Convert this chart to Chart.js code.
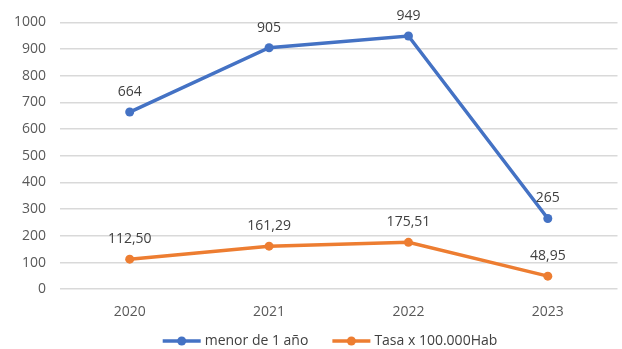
<!DOCTYPE html>
<html>
<head>
<meta charset="utf-8">
<script src="https://cdn.jsdelivr.net/npm/chart.js@4"></script>
<style>
  html, body { margin: 0; padding: 0; background: #fff; }
  #wrap { width: 622px; height: 349px; }
</style>
</head>
<body>
<div id="wrap"><canvas id="grafico"></canvas></div>
<script>
const anios = ['2020', '2021', '2022', '2023'];
const menorUnAnio = [664, 905, 949, 265];
const tasa = [112.50, 161.29, 175.51, 48.95];
const nombres = ['menor de 1 año', 'Tasa x 100.000Hab'];
const colores = ['#4472C4', '#ED7D31'];
const yTicks = [0, 100, 200, 300, 400, 500, 600, 700, 800, 900, 1000];

const fuente = '"Open Sans", sans-serif';

function formato(v, dec) {
  return v.toFixed(dec).replace('.', ',');
}

// etiquetas de datos sobre cada punto
const etiquetas = {
  id: 'etiquetas',
  afterDatasetsDraw(chart) {
    const ctx = chart.ctx;
    ctx.save();
    ctx.font = '14px ' + fuente;
    ctx.fillStyle = '#404040';
    ctx.textAlign = 'center';
    ctx.textBaseline = 'middle';
    chart.data.datasets.forEach((ds, i) => {
      const meta = chart.getDatasetMeta(i);
      meta.data.forEach((pt, j) => {
        ctx.fillText(formato(ds.data[j], ds.decimales), pt.x, pt.y - 20);
      });
    });
    ctx.restore();
  }
};

// leyenda al estilo Excel: linea con punto + texto
const leyenda = {
  id: 'leyenda',
  afterDraw(chart) {
    const ctx = chart.ctx;
    ctx.save();
    ctx.font = '14px ' + fuente;
    ctx.textBaseline = 'middle';
    const y = 341, icono = 38, sep = 4, hueco = 24;
    const anchos = nombres.map(n => icono + sep + ctx.measureText(n).width);
    const total = anchos.reduce((a, b) => a + b, 0) + hueco * (nombres.length - 1);
    let x = 330 - total / 2;
    nombres.forEach((n, i) => {
      ctx.strokeStyle = colores[i];
      ctx.lineWidth = 3.5;
      ctx.beginPath(); ctx.moveTo(x, y); ctx.lineTo(x + icono, y); ctx.stroke();
      ctx.fillStyle = colores[i];
      ctx.beginPath(); ctx.arc(x + icono / 2, y, 4.5, 0, Math.PI * 2); ctx.fill();
      ctx.fillStyle = '#404040';
      ctx.textAlign = 'left';
      ctx.fillText(n, x + icono + sep, y);
      x += anchos[i] + hueco;
    });
    ctx.restore();
  }
};

const ctx = document.getElementById('grafico');
new Chart(ctx, {
  type: 'line',
  data: {
    labels: anios,
    datasets: [
      {
        label: nombres[0], data: menorUnAnio, decimales: 0,
        borderColor: colores[0], backgroundColor: colores[0],
        borderWidth: 3.5, pointRadius: 4.5, pointBorderWidth: 0, pointHoverRadius: 4.5
      },
      {
        label: nombres[1], data: tasa, decimales: 2,
        borderColor: colores[1], backgroundColor: colores[1],
        borderWidth: 3.5, pointRadius: 4.5, pointBorderWidth: 0, pointHoverRadius: 4.5
      }
    ]
  },
  options: {
    responsive: true,
    maintainAspectRatio: false,
    animation: false,
    elements: { point: { pointStyle: 'circle' }, line: { tension: 0 } },
    layout: { padding: { top: 10, right: 4, left: 0, bottom: 23 } },
    plugins: {
      legend: { display: false },
      tooltip: { enabled: false }
    },
    scales: {
      x: {
        offset: true,
        grid: { display: false },
        border: { display: false },
        ticks: { color: '#595959', font: { family: fuente, size: 14 }, padding: 6 }
      },
      y: {
        min: 0, max: 1000,
        afterBuildTicks(axis) { axis.ticks = yTicks.map(v => ({ value: v })); },
        grid: { color: '#D9D9D9', lineWidth: 1.5, drawTicks: false },
        border: { display: false },
        ticks: {
          color: '#595959', font: { family: fuente, size: 14 }, padding: 14,
          callback: v => String(v)
        }
      }
    }
  },
  plugins: [etiquetas, leyenda]
});
</script>
</body>
</html>
